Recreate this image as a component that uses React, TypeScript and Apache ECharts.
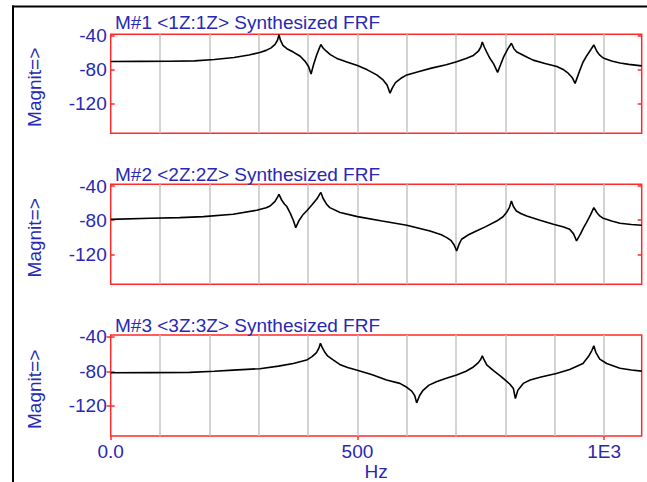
import React, { useEffect, useRef } from "react";
import * as echarts from "echarts";

const titles = [
  "M#1 <1Z:1Z> Synthesized FRF",
  "M#2 <2Z:2Z> Synthesized FRF",
  "M#3 <3Z:3Z> Synthesized FRF",
];
const yAxisName = "Magnit=>";
const xAxisName = "Hz";
const yTickValues = [-40, -80, -120];
const xTickValues = [0, 500, 1000];
const xTickLabels: Record<number, string> = { 0: "0.0", 500: "500", 1000: "1E3" };

const frf1: number[][] = [
  [0, -70.2], [60, -70], [120, -69.8], [170, -69.4], [210, -67.8], [250, -65.5], [280, -62.5],
  [302, -59.5], [315, -57], [325, -54], [333, -50], [338, -45], [341, -38.5], [344, -45],
  [349, -51], [357, -55], [370, -59], [384, -64], [394, -70], [401, -76], [406, -85],
  [411, -74], [417, -63], [423, -54], [426, -50], [430, -54], [437, -58], [445, -62],
  [460, -67], [480, -71], [500, -75], [520, -80], [539, -86], [552, -92], [560, -98],
  [566, -107.5], [571, -101], [577, -95], [588, -90], [600, -86], [625, -82], [650, -78],
  [680, -74], [701, -70.5], [720, -66.5], [735, -63], [745, -58], [750, -53], [753, -47],
  [757, -53], [762, -59], [768, -66], [776, -73], [784, -83], [790, -74], [796, -65],
  [805, -55], [812, -48.6], [817, -55], [823, -59], [830, -61], [845, -65.5], [856, -68.5],
  [880, -72.5], [904, -76], [918, -80], [927, -84], [935, -89], [941, -96], [946, -88],
  [951, -80], [957, -71], [965, -63], [973, -56], [979, -50.6], [985, -58], [990, -62],
  [998, -66], [1015, -69.5], [1032, -72], [1050, -73.5], [1076, -75.3],
];

const frf2: number[][] = [
  [0, -79], [80, -77.8], [140, -77], [188, -75.8], [248, -73], [296, -68.4], [315, -65.5],
  [323, -63.4], [333, -58], [338, -53], [341, -49.7], [346, -56], [352, -61], [357, -64],
  [364, -72], [370, -80], [375, -88.7], [381, -81], [389, -74], [397, -69.2], [408, -62],
  [418, -55], [423, -50], [426, -47.7], [430, -54], [437, -61], [444, -65.3], [465, -71],
  [500, -75.8], [550, -81], [600, -86], [647, -92.6], [670, -97], [681, -100.4], [690, -104],
  [696, -109], [701, -116], [706, -108], [711, -102.3], [725, -97], [741, -92.6], [760, -87.5],
  [782, -81], [795, -76], [802, -71.1], [808, -65], [812, -57.5], [816, -64], [822, -69.2],
  [832, -72.5], [843, -75.1], [870, -80], [897, -84.8], [918, -88], [930, -90.6], [938, -96],
  [944, -104.3], [952, -96], [958, -89], [964, -82.8], [972, -74], [979, -65.3], [985, -71],
  [991, -75], [998, -77.8], [1015, -81], [1032, -83.6], [1055, -85], [1076, -86],
];

const frf3: number[][] = [
  [0, -81.7], [80, -81.5], [160, -81.3], [210, -80], [248, -78.6], [302, -77], [340, -74],
  [370, -71], [397, -67], [408, -63], [417, -58.5], [422, -53], [425, -47.5], [429, -53],
  [434, -58], [440, -62.5], [450, -66.5], [464, -72], [480, -75.5], [498, -78.6], [530, -84],
  [559, -90], [586, -94], [600, -98.5], [610, -103], [616, -108], [620, -116.5], [626, -108],
  [633, -102], [645, -96], [660, -92], [680, -88], [701, -84.4], [720, -80], [735, -75],
  [745, -70], [750, -66], [753, -62], [756, -66], [762, -72.5], [775, -79], [790, -85.5],
  [799, -90], [809, -95], [816, -100], [820, -111.5], [825, -102], [836, -94], [850, -90],
  [870, -87], [903, -82.5], [930, -78], [957, -71], [968, -63], [975, -56], [979, -50.4],
  [983, -58], [991, -66], [1005, -71], [1032, -76.5], [1055, -78.5], [1076, -79.8],
];

const seriesData = [frf1, frf2, frf3];
const X_MAX = 1076;
const Y_MAX = -38;
const Y_MIN = -155;

const BLUE = "#2828b4";
const RED = "#ff2a2a";
const FONT = "'Liberation Sans', Arial, sans-serif";
const FS = 19;

const grids = [
  { left: 110.7, top: 34.3, width: 531, height: 99 },
  { left: 110.7, top: 184.3, width: 531, height: 100 },
  { left: 110.7, top: 335, width: 531, height: 101.7 },
];
const titleY = [22.5, 174, 325.8];

export default function App() {
  const ref = useRef<HTMLDivElement>(null);
  useEffect(() => {
    if (!ref.current) return;
    const chart = echarts.init(ref.current, undefined, { renderer: "svg" });
    const xAxes: any[] = grids.map((_, i) => ({
      type: "value",
      gridIndex: i,
      min: 0,
      max: X_MAX,
      interval: 100,
      axisLine: { show: false },
      axisTick: { show: false },
      axisLabel: { show: false },
      splitLine: {
        show: true,
        showMinLine: false,
        showMaxLine: false,
        lineStyle: { color: "#c4c4c4", width: 1.5 },
      },
    }));
    xAxes.push({
      type: "value",
      gridIndex: 2,
      position: "bottom",
      min: 0,
      max: X_MAX,
      interval: 500,
      axisLine: { show: false },
      axisTick: {
        show: true,
        inside: false,
        length: 4,
        customValues: xTickValues,
        lineStyle: { color: RED, width: 1.5 },
      },
      axisLabel: {
        show: true,
        customValues: xTickValues,
        margin: 6,
        color: BLUE,
        fontSize: FS,
        fontFamily: FONT,
        formatter: (v: number) => xTickLabels[v] ?? "",
      },
      splitLine: { show: false },
      name: xAxisName,
      nameLocation: "middle",
      nameGap: 25,
      nameTextStyle: { color: BLUE, fontSize: FS, fontFamily: FONT },
    });
    const yAxes: any[] = [];
    grids.forEach((_, i) => {
      yAxes.push({
        type: "value",
        gridIndex: i,
        position: "left",
        min: Y_MIN,
        max: Y_MAX,
        axisLine: { show: false },
        axisTick: {
          show: true,
          inside: true,
          length: 4,
          customValues: yTickValues,
          lineStyle: { color: RED, width: 1.5 },
        },
        axisLabel: {
          show: true,
          customValues: yTickValues,
          margin: 4,
          color: BLUE,
          fontSize: FS,
          fontFamily: FONT,
        },
        splitLine: { show: false },
      });
      yAxes.push({
        type: "value",
        gridIndex: i,
        position: "right",
        min: Y_MIN,
        max: Y_MAX,
        axisLine: { show: false },
        axisTick: {
          show: true,
          inside: true,
          length: 4,
          customValues: yTickValues,
          lineStyle: { color: RED, width: 1.5 },
        },
        axisLabel: { show: false },
        splitLine: { show: false },
      });
    });
    const graphics: any[] = [
      {
        type: "line",
        shape: { x1: 12, y1: 6.5, x2: 647, y2: 6.5 },
        style: { stroke: "#000", lineWidth: 2 },
      },
      {
        type: "line",
        shape: { x1: 13, y1: 5.5, x2: 13, y2: 482 },
        style: { stroke: "#000", lineWidth: 2 },
      },
    ];
    grids.forEach((g, i) => {
      graphics.push({
        type: "text",
        x: 115,
        y: titleY[i],
        style: {
          text: titles[i],
          fill: BLUE,
          fontSize: FS,
          fontFamily: FONT,
          textAlign: "left",
          textVerticalAlign: "middle",
        },
      });
      graphics.push({
        type: "text",
        x: 34,
        y: g.top + g.height / 2 + 3.5,
        rotation: Math.PI / 2,
        style: {
          text: yAxisName,
          fill: BLUE,
          fontSize: FS,
          fontFamily: FONT,
          textAlign: "center",
          textVerticalAlign: "middle",
        },
      });
    });
    chart.setOption({
      animation: false,
      backgroundColor: "#fff",
      grid: grids.map((g) => ({
        ...g,
        show: true,
        borderColor: RED,
        borderWidth: 1.5,
        backgroundColor: "transparent",
        containLabel: false,
      })),
      xAxis: xAxes,
      yAxis: yAxes,
      graphic: graphics,
      series: seriesData.map((d, i) => ({
        type: "line",
        xAxisIndex: i,
        yAxisIndex: i * 2,
        data: d,
        showSymbol: false,
        symbol: "none",
        lineStyle: { color: "#000", width: 1.6 },
        silent: true,
      })),
    });
    return () => chart.dispose();
  }, []);
  return (
    <div
      ref={ref}
      style={{ position: "absolute", left: 0, top: 0, width: 647, height: 482 }}
    />
  );
}
